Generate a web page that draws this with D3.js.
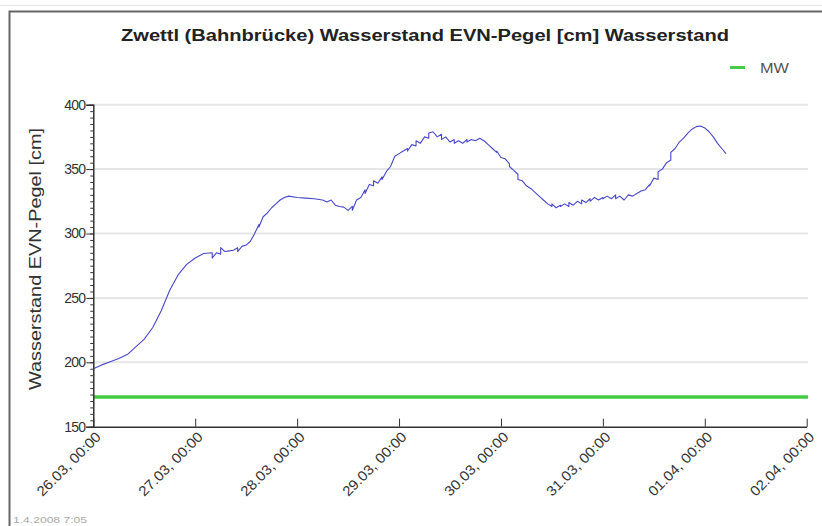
<!DOCTYPE html>
<html>
<head>
<meta charset="utf-8">
<script src="https://cdn.jsdelivr.net/npm/d3@7"></script>
<style>
	body { margin: 0; background: white; }
	svg { display: block; font-family: "Liberation Sans", Arial, sans-serif; }
</style>
</head>
<body>
<script>
// Data: hours after 26.03.2008 00:00 and water level [cm]
var hours = [0, 2, 4, 6, 8, 10, 12, 14, 16, 18, 20, 22, 24, 26, 28, 28.6, 29.2, 30, 30.6, 31.4,
	32, 33, 34, 34.6, 35.2, 36, 37, 38, 39, 39.6, 40.2, 41, 42, 43, 44, 45, 46.5, 48, 50, 52,
	54, 55.5, 56.2, 57, 58.5, 59.5, 60.2, 61, 61.6, 62.3, 63, 64, 64.6, 65.3, 66, 66.7, 67.4, 68, 68.7, 69.5,
	70.2, 71, 72, 73, 74, 74.7, 75.4, 76, 76.8, 77.5, 78.3, 79, 79.8, 80.5, 81.3, 82, 82.8, 83.5, 84.2, 85,
	85.8, 86.5, 87.2, 88, 88.8, 89.5, 90.3, 91, 92, 93, 94, 95, 95.7, 96.5, 97.3, 98, 98.7, 99.4, 100, 100.8,
	101.5, 102.2, 103, 104, 105, 106, 107, 108, 108.7, 109.4, 110, 110.7, 111.4, 112, 112.8, 113.5, 114.2, 115, 115.7, 116.4,
	117, 117.8, 118.5, 119.2, 120, 120.8, 121.5, 122.2, 123, 123.8, 124.5, 125.2, 126, 127, 128, 129, 130, 131, 131.7, 132.4,
	133, 133.8, 134.5, 135.2, 136, 136.8, 137.5, 138.2, 139, 140, 141, 142, 143, 144, 145, 146, 147, 148, 149.3];
var levels = [195, 198, 200.5, 203, 206, 212, 218, 227, 240, 256, 268, 276, 281, 284.5, 285, 281, 285, 284, 289, 286,
	286.5, 287, 289, 286, 290, 291, 294, 300, 307, 305, 313, 316, 320, 323, 326, 328, 329, 328, 327.5, 327,
	326, 324.5, 326, 322, 321, 320.5, 318, 321, 318, 326, 328, 334, 331, 338, 337, 341, 339, 344, 342, 348,
	352, 360, 362, 364, 366, 364, 369, 368, 372, 370, 375, 374, 378, 379, 375, 377, 373, 375, 371, 373,
	370, 372, 370, 373, 371, 373, 372, 374, 372, 369, 366, 363, 364, 359, 358, 354, 352, 349, 346, 342,
	341, 337, 335, 332, 329, 326, 323, 321, 323, 320, 322, 321, 323, 321, 324, 322, 325, 323, 326, 324,
	327, 325, 328, 326, 328, 327, 329, 327, 330, 327, 329, 326, 330, 329, 331, 333, 334, 338, 337, 343,
	342, 348, 350, 355, 357, 363, 366, 371, 374, 378, 381, 383, 383.5, 382, 379, 375, 370, 366, 362];
var mw_level = 173;
var y_ticks = [150, 200, 250, 300, 350, 400];
var day_ticks = ["2008-03-26", "2008-03-27", "2008-03-28", "2008-03-29", "2008-03-30", "2008-03-31", "2008-04-01", "2008-04-02"];
var title_text = "Zwettl (Bahnbrücke) Wasserstand EVN-Pegel [cm] Wasserstand";
var y_title = "Wasserstand EVN-Pegel [cm]";
var legend_text = "MW";
var stamp_text = "1.4.2008 7:05";

var W = 822, H = 526;
var start = new Date(2008, 2, 26, 0, 0);
var parseDay = d3.timeParse("%Y-%m-%d");
var days = day_ticks.map(parseDay);
var points = hours.map(function(h, i){ return {t: d3.timeHour.offset(start, h), v: levels[i]}; });

var x = d3.scaleTime().domain([days[0], days[days.length - 1]]).range([93.3, 806.7]);
var y = d3.scaleLinear().domain([150, 400]).range([426.7, 104.7]);

var svg = d3.select("body").append("svg")
	.attr("width", W)
	.attr("height", H);

svg.append("rect")//background
	.attr("width", W).attr("height", H).attr("fill", "white");

svg.append("line")//faint line above frame
	.attr("x1", 0).attr("x2", W).attr("y1", 5.5).attr("y2", 5.5)
	.attr("stroke", "#e4e4e4").attr("stroke-width", 1);

svg.append("polyline")//frame
	.attr("points", "9.5," + H + " 9.5,11.5 " + W + ",11.5")
	.attr("fill", "none")
	.attr("stroke", "#666")
	.attr("stroke-width", 2);

svg.append("text")//title
	.attr("x", 425)
	.attr("y", 41)
	.attr("text-anchor", "middle")
	.attr("font-size", 16)
	.attr("font-weight", "bold")
	.attr("fill", "#222")
	.attr("textLength", 608)
	.attr("lengthAdjust", "spacingAndGlyphs")
	.text(title_text);

// grid
svg.append("g")
	.selectAll("line")
	.data(y_ticks.slice(1))
	.join("line")
	.attr("x1", x.range()[0]).attr("x2", 808)
	.attr("y1", function(d){ return y(d); })
	.attr("y2", function(d){ return y(d); })
	.attr("stroke", "#e6e6e6")
	.attr("stroke-width", 2);

// MW line
svg.append("line")
	.attr("x1", x.range()[0]).attr("x2", 808)
	.attr("y1", y(mw_level)).attr("y2", y(mw_level))
	.attr("stroke", "#44cc44")
	.attr("stroke-width", 3.5);

// level line
var line = d3.line()
	.x(function(d){ return x(d.t); })
	.y(function(d){ return y(d.v); });

svg.append("path")
	.datum(points)
	.attr("d", line)
	.attr("fill", "none")
	.attr("stroke", "#4848cc")
	.attr("stroke-width", 1.1)
	.attr("stroke-linejoin", "round");

// y axis with minor ticks
var yAxisMinor = d3.axisLeft(y).ticks(50).tickSize(3).tickFormat("");
svg.append("g")
	.attr("transform", "translate(" + x.range()[0] + ",0)")
	.call(yAxisMinor)
	.call(function(g){ g.select(".domain").remove(); })
	.selectAll("line").attr("stroke", "#333");

var yAxis = d3.axisLeft(y).tickValues(y_ticks).tickSize(7).tickPadding(1);
var yg = svg.append("g")
	.attr("transform", "translate(" + x.range()[0] + ",0)")
	.call(yAxis);
yg.select(".domain").attr("stroke", "#333").attr("stroke-width", 1.5);
yg.selectAll(".tick line").attr("stroke", "#333");
yg.selectAll("text")
	.attr("font-size", 14)
	.attr("font-family", "Liberation Sans, Arial, sans-serif")
	.attr("fill", "#333")
	.attr("letter-spacing", "-0.8");

// x axis, ticks pointing up into the plot
var fmt = d3.timeFormat("%d.%m, %H:%M");
var xAxis = d3.axisBottom(x).tickValues(days).tickSize(-8).tickSizeOuter(0).tickFormat(fmt);
var xg = svg.append("g")
	.attr("transform", "translate(0," + y.range()[0] + ")")
	.call(xAxis);
xg.select(".domain").attr("stroke", "#333").attr("stroke-width", 1.5);
xg.selectAll(".tick line").attr("stroke", "#333");
xg.selectAll("text")
	.attr("font-size", 14)
	.attr("font-family", "Liberation Sans, Arial, sans-serif")
	.attr("fill", "#333")
	.attr("text-anchor", "end")
	.attr("dy", null)
	.attr("y", 0)
	.attr("textLength", 84)
	.attr("lengthAdjust", "spacingAndGlyphs")
	.attr("transform", "translate(8,11) rotate(-45)");

svg.append("text")//y axis title
	.attr("transform", "translate(41,259) rotate(-90)")
	.attr("text-anchor", "middle")
	.attr("font-size", 17)
	.attr("fill", "#333")
	.attr("textLength", 262)
	.attr("lengthAdjust", "spacingAndGlyphs")
	.text(y_title);

// legend
svg.append("line")
	.attr("x1", 730).attr("x2", 745)
	.attr("y1", 67.5).attr("y2", 67.5)
	.attr("stroke", "#44cc44")
	.attr("stroke-width", 3);

svg.append("text")
	.attr("x", 760)
	.attr("y", 72.5)
	.attr("font-size", 14)
	.attr("fill", "#555")
	.attr("textLength", 29)
	.attr("lengthAdjust", "spacingAndGlyphs")
	.text(legend_text);

svg.append("text")//date stamp
	.attr("x", 13)
	.attr("y", 523)
	.attr("font-size", 9)
	.attr("fill", "#aaa")
	.attr("textLength", 74)
	.attr("lengthAdjust", "spacingAndGlyphs")
	.text(stamp_text);
</script>
</body>
</html>
